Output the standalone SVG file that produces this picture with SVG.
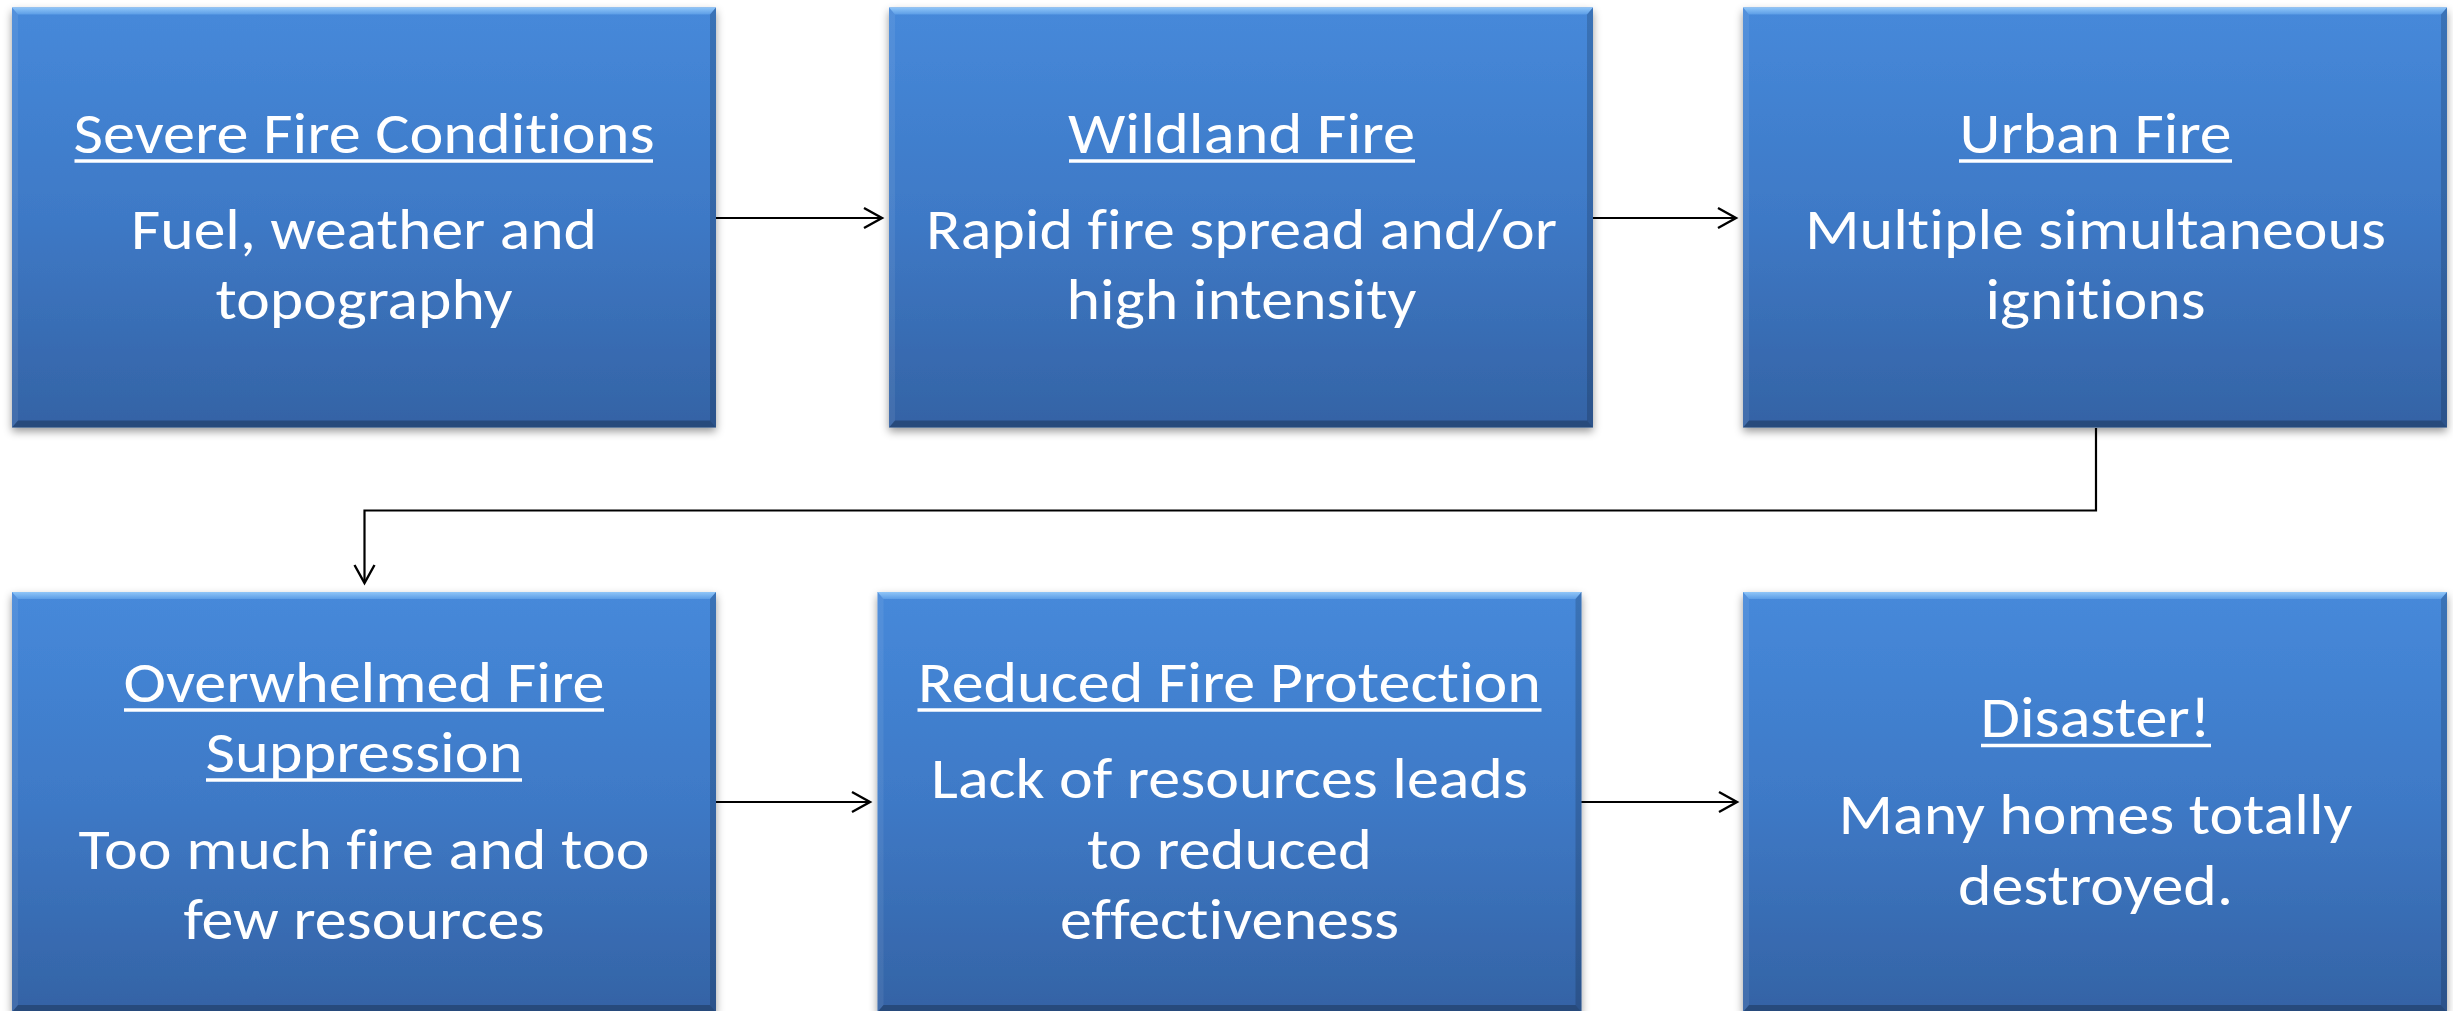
<svg xmlns="http://www.w3.org/2000/svg" xmlns:xlink="http://www.w3.org/1999/xlink" width="2453" height="1011" viewBox="0 0 2453 1011">
<style>
  .t{font-family:Carlito,Calibri,Lato,"Open Sans",sans-serif;font-size:58px;fill:#ffffff;text-anchor:middle;font-variant-ligatures:none;font-feature-settings:"liga" 0,"clig" 0}
  .ul{stroke:#ffffff;stroke-width:3.5}
  .cn{fill:none;stroke:#000000;stroke-width:2.2;marker-end:url(#arr)}
</style>
<defs>
  <linearGradient id="gMain" x1="0" y1="0" x2="0" y2="1">
    <stop offset="0" stop-color="#4689DA"/>
    <stop offset="0.5" stop-color="#3E79C6"/>
    <stop offset="1" stop-color="#3463A5"/>
  </linearGradient>
  <linearGradient id="gTop" x1="0" y1="0" x2="0" y2="1">
    <stop offset="0" stop-color="#90C6F8"/>
    <stop offset="1" stop-color="#5C9DE6"/>
  </linearGradient>
  <filter id="sh" x="-5%" y="-5%" width="110%" height="115%">
    <feDropShadow dx="0" dy="4" stdDeviation="4" flood-color="#000000" flood-opacity="0.4"/>
  </filter>
  <marker id="arr" markerUnits="userSpaceOnUse" markerWidth="26" markerHeight="26" viewBox="-22 -13 26 26" refX="0" refY="0" orient="auto">
    <path d="M-18,-10 L0,0 L-18,10" fill="none" stroke="#000000" stroke-width="2.4"/>
  </marker>
  <g id="boxShape">
    <rect x="0" y="0" width="704" height="420" fill="url(#gMain)" filter="url(#sh)"/>
    <polygon points="0,0 704,0 698,7 6,7" fill="url(#gTop)"/>
    <polygon points="0,0 6,7 6,413 0,420" fill="#ffffff" opacity="0.07"/>
    <polygon points="704,0 704,420 698,413 698,7" fill="#000000" opacity="0.16"/>
    <polygon points="0,420 6,413 698,413 704,420" fill="#000000" opacity="0.25"/>
  </g>
</defs>
<rect x="0" y="0" width="2453" height="1011" fill="#ffffff"/>

<g id="connectors">
  <path class="cn" d="M716,218 H882"/>
  <path class="cn" d="M1593,218 H1736"/>
  <path class="cn" d="M2096,428 V510.5 H364.5 V583"/>
  <path class="cn" d="M716,802 H870"/>
  <path class="cn" d="M1581,802 H1737"/>
</g>

<g id="node-severe-fire-conditions">
  <use xlink:href="#boxShape" x="12" y="7.5"/>
  <text class="t" x="364" y="153" textLength="581" lengthAdjust="spacingAndGlyphs">Severe Fire Conditions</text>
  <line class="ul" x1="74.5" y1="161" x2="653" y2="161"/>
  <text class="t" x="364" y="249" textLength="466" lengthAdjust="spacingAndGlyphs">Fuel, weather and</text>
  <text class="t" x="364" y="319" textLength="297" lengthAdjust="spacingAndGlyphs">topography</text>
</g>

<g id="node-wildland-fire">
  <use xlink:href="#boxShape" x="889" y="7.5"/>
  <text class="t" x="1241.5" y="153" textLength="347" lengthAdjust="spacingAndGlyphs">Wildland Fire</text>
  <line class="ul" x1="1069" y1="161" x2="1415" y2="161"/>
  <text class="t" x="1241.5" y="249" textLength="631" lengthAdjust="spacingAndGlyphs">Rapid fire spread and/or</text>
  <text class="t" x="1241.5" y="319" textLength="350" lengthAdjust="spacingAndGlyphs">high intensity</text>
</g>

<g id="node-urban-fire">
  <use xlink:href="#boxShape" x="1743" y="7.5"/>
  <text class="t" x="2095.5" y="153" textLength="272" lengthAdjust="spacingAndGlyphs">Urban Fire</text>
  <line class="ul" x1="1959" y1="161" x2="2232" y2="161"/>
  <text class="t" x="2095.5" y="249" textLength="581" lengthAdjust="spacingAndGlyphs">Multiple simultaneous</text>
  <text class="t" x="2095.5" y="319" textLength="220" lengthAdjust="spacingAndGlyphs">ignitions</text>
</g>

<g id="node-overwhelmed-fire-suppression">
  <use xlink:href="#boxShape" x="12" y="592"/>
  <text class="t" x="364" y="701.5" textLength="481" lengthAdjust="spacingAndGlyphs">Overwhelmed Fire</text>
  <line class="ul" x1="124" y1="710" x2="604" y2="710"/>
  <text class="t" x="364" y="771.5" textLength="317" lengthAdjust="spacingAndGlyphs">Suppression</text>
  <line class="ul" x1="206" y1="780" x2="522" y2="780"/>
  <text class="t" x="364" y="869" textLength="571" lengthAdjust="spacingAndGlyphs">Too much fire and too</text>
  <text class="t" x="364" y="939" textLength="361" lengthAdjust="spacingAndGlyphs">few resources</text>
</g>

<g id="node-reduced-fire-protection">
  <use xlink:href="#boxShape" x="877.5" y="592"/>
  <text class="t" x="1229.5" y="701.5" textLength="623" lengthAdjust="spacingAndGlyphs">Reduced Fire Protection</text>
  <line class="ul" x1="917.5" y1="710" x2="1541.5" y2="710"/>
  <text class="t" x="1229.5" y="798" textLength="597" lengthAdjust="spacingAndGlyphs">Lack of resources leads</text>
  <text class="t" x="1229.5" y="869" textLength="285" lengthAdjust="spacingAndGlyphs">to reduced</text>
  <text class="t" x="1229.5" y="939" textLength="339" lengthAdjust="spacingAndGlyphs">effectiveness</text>
</g>

<g id="node-disaster">
  <use xlink:href="#boxShape" x="1743" y="592"/>
  <text class="t" x="2095.5" y="737" textLength="230" lengthAdjust="spacingAndGlyphs">Disaster!</text>
  <line class="ul" x1="1981" y1="745.5" x2="2211" y2="745.5"/>
  <text class="t" x="2095.5" y="834" textLength="514" lengthAdjust="spacingAndGlyphs">Many homes totally</text>
  <text class="t" x="2095.5" y="905" textLength="275" lengthAdjust="spacingAndGlyphs">destroyed.</text>
</g>
</svg>
